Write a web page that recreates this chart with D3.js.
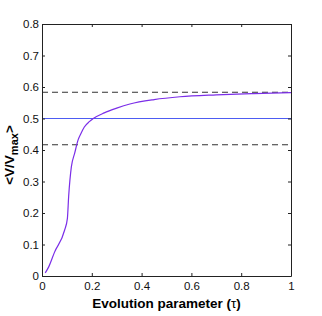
<!DOCTYPE html>
<html>
<head>
<meta charset="utf-8">
<script src="https://cdn.jsdelivr.net/npm/d3@7"></script>
<style>
  body { margin: 0; background: #fff; }
  text { font-family: "Liberation Sans", Arial, sans-serif; }
</style>
</head>
<body>
<div id="chart"></div>
<script>
// curve: evolution parameter tau vs <V/Vmax>
var tau = [0.013, 0.027, 0.05, 0.091, 0.102, 0.107, 0.118, 0.131, 0.145, 0.155, 0.17, 0.19, 0.206, 0.25, 0.3, 0.353, 0.45, 0.554, 0.7, 0.85, 1.0];
var vmean = [0.01, 0.029, 0.075, 0.146, 0.183, 0.252, 0.347, 0.389, 0.432, 0.45, 0.473, 0.49, 0.5, 0.518, 0.533, 0.546, 0.56, 0.569, 0.575, 0.579, 0.582];
var refLevel = 0.5;
var bandLevels = [0.5833, 0.4167];
var xTicks = [0, 0.2, 0.4, 0.6, 0.8, 1];
var yTicks = [0, 0.1, 0.2, 0.3, 0.4, 0.5, 0.6, 0.7, 0.8];

var W = 322, H = 316;
var margin = {left: 42, top: 24, right: 31, bottom: 40};

var svg = d3.select('#chart').append('svg')
	.attr('width', W).attr('height', H);

var x = d3.scaleLinear().domain([0, 1]).range([margin.left, W - margin.right]);
var y = d3.scaleLinear().domain([0, 0.8]).range([H - margin.bottom, margin.top]);

var fmt = function(d) { return d === 0 ? '0' : d === 1 ? '1' : d3.format('.1f')(d); };

// reference lines
svg.append('line')
	.attr('x1', x(0)).attr('x2', x(1))
	.attr('y1', y(refLevel)).attr('y2', y(refLevel))
	.attr('stroke', '#4d5cf2').attr('stroke-width', 1);

svg.selectAll('.band').data(bandLevels).enter().append('line')
	.attr('class', 'band')
	.attr('x1', x(0)).attr('x2', x(1))
	.attr('y1', function(d) { return y(d); }).attr('y2', function(d) { return y(d); })
	.attr('stroke', '#333').attr('stroke-width', 1.2)
	.attr('stroke-dasharray', '6,4');

// the curve
var pts = tau.map(function(t, i) { return [t, vmean[i]]; });
svg.append('path')
	.datum(pts)
	.attr('fill', 'none')
	.attr('stroke', '#7b2ee8')
	.attr('stroke-width', 1.2)
	.attr('d', d3.line().x(function(d) { return x(d[0]); }).y(function(d) { return y(d[1]); }).curve(d3.curveMonotoneX));

// axes, matlab style box with inward ticks
var tick = 3;
svg.append('g')
	.attr('transform', 'translate(0,' + y(0) + ')')
	.call(d3.axisBottom(x).tickValues(xTicks).tickFormat(fmt).tickSizeInner(-tick).tickSizeOuter(0).tickPadding(6));
svg.append('g')
	.attr('transform', 'translate(' + x(0) + ',0)')
	.call(d3.axisLeft(y).tickValues(yTicks).tickFormat(fmt).tickSizeInner(-tick).tickSizeOuter(0).tickPadding(3));
svg.append('g')
	.attr('transform', 'translate(0,' + y(0.8) + ')')
	.call(d3.axisTop(x).tickValues(xTicks).tickFormat('').tickSizeInner(-tick).tickSizeOuter(0));
svg.append('g')
	.attr('transform', 'translate(' + x(1) + ',0)')
	.call(d3.axisRight(y).tickValues(yTicks).tickFormat('').tickSizeInner(-tick).tickSizeOuter(0));

svg.selectAll('.domain').attr('stroke', '#222');
svg.selectAll('.tick line').attr('stroke', '#222');
svg.selectAll('.tick text').attr('font-size', 11.5).attr('fill', '#111')
	.style('font-family', '"Liberation Sans", Arial, sans-serif');

// labels
svg.append('text')
	.attr('x', (x(0) + x(1)) / 2).attr('y', 308)
	.attr('text-anchor', 'middle')
	.attr('font-size', 13.5).attr('font-weight', 'bold')
	.text('Evolution parameter (')
	.append('tspan').attr('font-weight', 'normal').text('\u03c4')
	.select(function() { return this.parentNode; })
	.append('tspan').text(')');

var yl = svg.append('text')
	.attr('transform', 'translate(13.5,155) rotate(-90)')
	.attr('text-anchor', 'middle')
	.attr('font-size', 13.5).attr('font-weight', 'bold');
yl.append('tspan').text('<V/V');
yl.append('tspan').attr('dy', 4.5).attr('font-size', 11).text('max');
yl.append('tspan').attr('dy', -4.5).text('>');
</script>
</body>
</html>
